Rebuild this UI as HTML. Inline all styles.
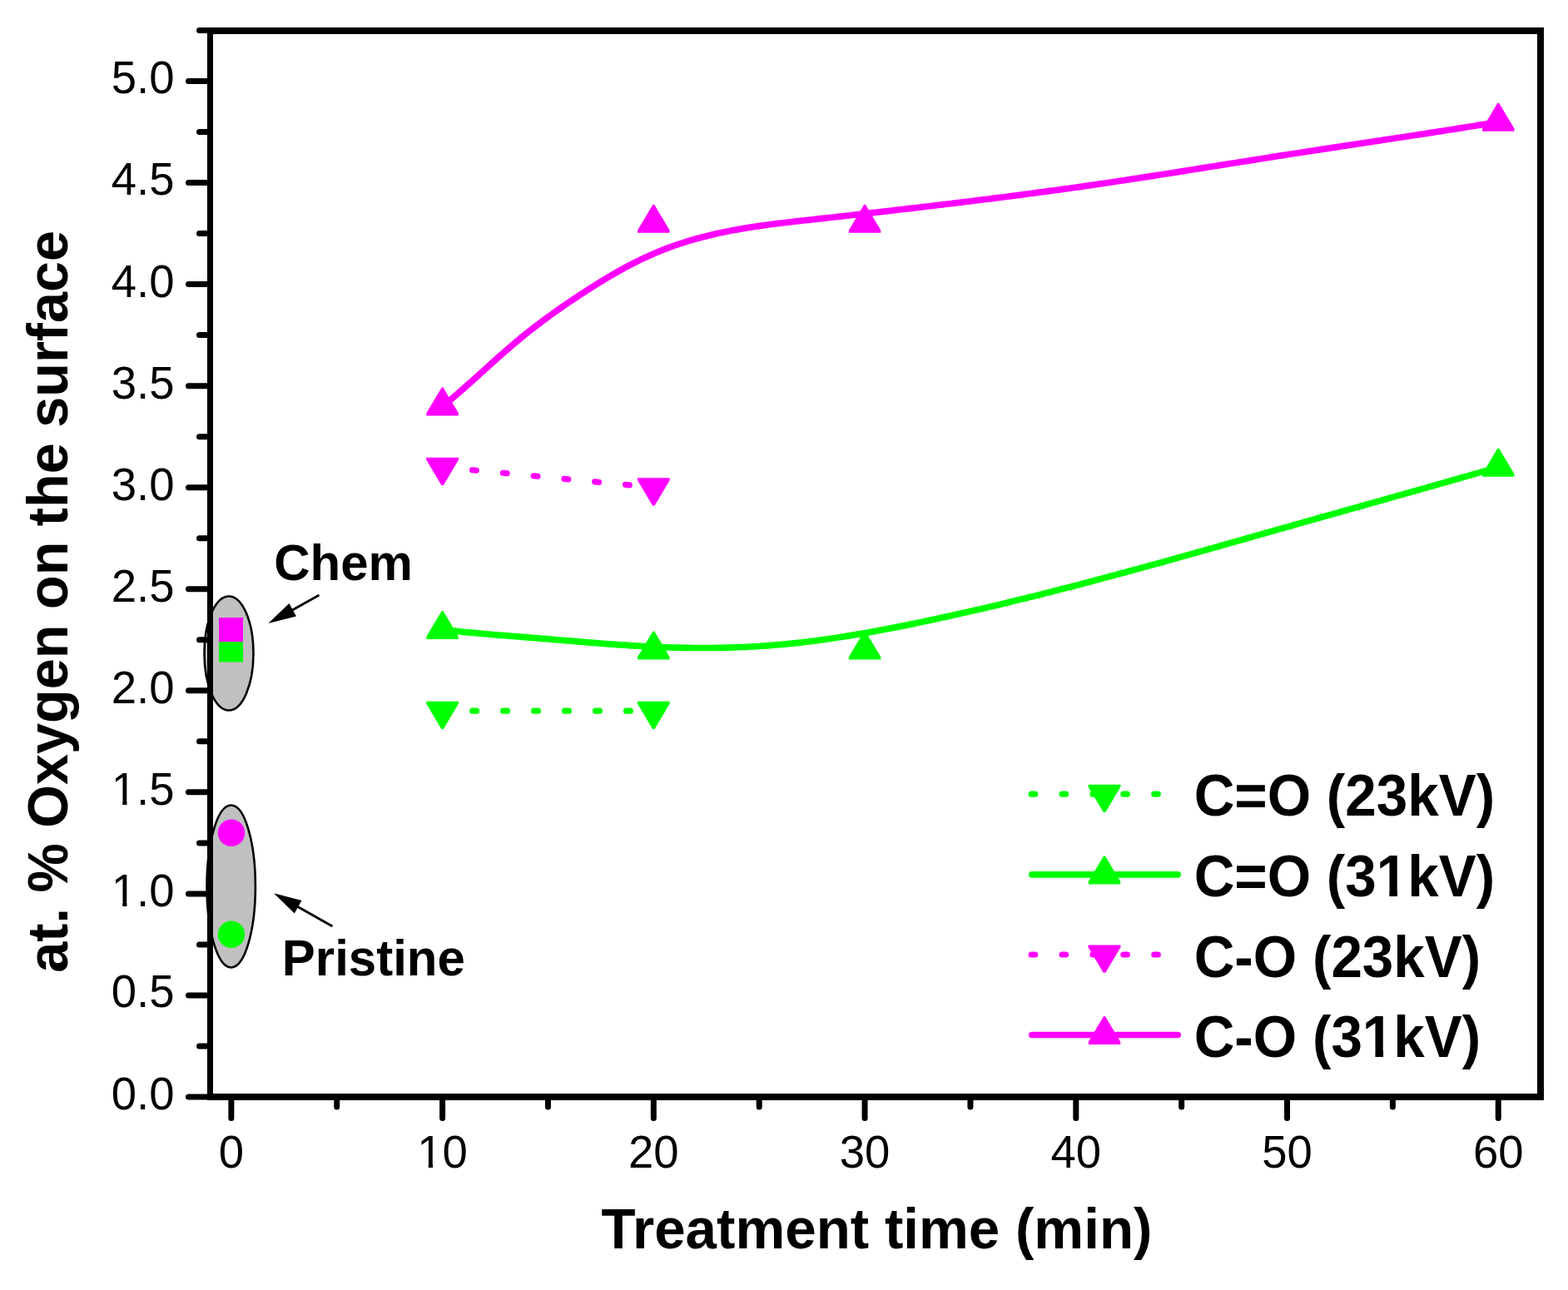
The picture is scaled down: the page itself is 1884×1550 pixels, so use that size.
<!DOCTYPE html>
<html><head><meta charset="utf-8"><title>at. % Oxygen on the surface vs Treatment time</title>
<style>
html,body{margin:0;padding:0;background:#fff;}
body{width:1884px;height:1550px;overflow:hidden;}
svg{display:block;}
text{font-family:"Liberation Sans",Arial,sans-serif;}
</style></head><body>
<svg width="1884" height="1550" viewBox="0 0 1884 1550">
<rect width="1884" height="1550" fill="#fff"/>

<ellipse cx="275" cy="785" rx="29.5" ry="68.5" fill="#c0c0c0" stroke="#000" stroke-width="2.6"/>
<ellipse cx="277.7" cy="1065" rx="29.2" ry="97.5" fill="#c0c0c0" stroke="#000" stroke-width="2.6"/>
<g fill="#000">
<rect x="249" y="33" width="7" height="1289"/>
<rect x="249" y="33" width="1606" height="8"/>
<rect x="1847" y="33" width="8" height="1289"/>
<rect x="249" y="1314" width="1606" height="8"/>
</g>
<g stroke="#000" stroke-width="7" stroke-linecap="round" fill="none">
<line x1="226.5" y1="1318.00" x2="252" y2="1318.00"/>
<line x1="239.5" y1="1256.97" x2="252" y2="1256.97"/>
<line x1="226.5" y1="1195.95" x2="252" y2="1195.95"/>
<line x1="239.5" y1="1134.92" x2="252" y2="1134.92"/>
<line x1="226.5" y1="1073.90" x2="252" y2="1073.90"/>
<line x1="239.5" y1="1012.88" x2="252" y2="1012.88"/>
<line x1="226.5" y1="951.85" x2="252" y2="951.85"/>
<line x1="239.5" y1="890.83" x2="252" y2="890.83"/>
<line x1="226.5" y1="829.80" x2="252" y2="829.80"/>
<line x1="239.5" y1="768.77" x2="252" y2="768.77"/>
<line x1="226.5" y1="707.75" x2="252" y2="707.75"/>
<line x1="239.5" y1="646.73" x2="252" y2="646.73"/>
<line x1="226.5" y1="585.70" x2="252" y2="585.70"/>
<line x1="239.5" y1="524.68" x2="252" y2="524.68"/>
<line x1="226.5" y1="463.65" x2="252" y2="463.65"/>
<line x1="239.5" y1="402.62" x2="252" y2="402.62"/>
<line x1="226.5" y1="341.60" x2="252" y2="341.60"/>
<line x1="239.5" y1="280.58" x2="252" y2="280.58"/>
<line x1="226.5" y1="219.55" x2="252" y2="219.55"/>
<line x1="239.5" y1="158.53" x2="252" y2="158.53"/>
<line x1="226.5" y1="97.50" x2="252" y2="97.50"/>
<line x1="239.5" y1="36.48" x2="252" y2="36.48"/>
<line x1="277.87" y1="1318" x2="277.87" y2="1343.5"/>
<line x1="404.74" y1="1318" x2="404.74" y2="1330"/>
<line x1="531.60" y1="1318" x2="531.60" y2="1343.5"/>
<line x1="658.47" y1="1318" x2="658.47" y2="1330"/>
<line x1="785.33" y1="1318" x2="785.33" y2="1343.5"/>
<line x1="912.20" y1="1318" x2="912.20" y2="1330"/>
<line x1="1039.06" y1="1318" x2="1039.06" y2="1343.5"/>
<line x1="1165.93" y1="1318" x2="1165.93" y2="1330"/>
<line x1="1292.79" y1="1318" x2="1292.79" y2="1343.5"/>
<line x1="1419.66" y1="1318" x2="1419.66" y2="1330"/>
<line x1="1546.52" y1="1318" x2="1546.52" y2="1343.5"/>
<line x1="1673.39" y1="1318" x2="1673.39" y2="1330"/>
<line x1="1800.25" y1="1318" x2="1800.25" y2="1343.5"/>
</g>
<g font-size="54.5" fill="#000">
<text text-anchor="end" transform="translate(209.5 1333.05) scale(1 1.032)">0.0</text>
<text text-anchor="end" transform="translate(209.5 1210.00) scale(1 1.032)">0.5</text>
<text text-anchor="end" transform="translate(209.5 1088.80) scale(1 1.032)">1.0</text>
<text text-anchor="end" transform="translate(209.5 966.80) scale(1 1.032)">1.5</text>
<text text-anchor="end" transform="translate(209.5 845.00) scale(1 1.032)">2.0</text>
<text text-anchor="end" transform="translate(209.5 722.55) scale(1 1.032)">2.5</text>
<text text-anchor="end" transform="translate(209.5 600.80) scale(1 1.032)">3.0</text>
<text text-anchor="end" transform="translate(209.5 479.00) scale(1 1.032)">3.5</text>
<text text-anchor="end" transform="translate(209.5 356.90) scale(1 1.032)">4.0</text>
<text text-anchor="end" transform="translate(209.5 233.85) scale(1 1.032)">4.5</text>
<text text-anchor="end" transform="translate(209.5 111.90) scale(1 1.032)">5.0</text>
<text text-anchor="middle" transform="translate(277.87 1402.9) scale(1 1.032)">0</text>
<text text-anchor="middle" transform="translate(531.60 1402.9) scale(1 1.032)">10</text>
<text text-anchor="middle" transform="translate(785.33 1402.9) scale(1 1.032)">20</text>
<text text-anchor="middle" transform="translate(1039.06 1402.9) scale(1 1.032)">30</text>
<text text-anchor="middle" transform="translate(1292.79 1402.9) scale(1 1.032)">40</text>
<text text-anchor="middle" transform="translate(1546.52 1402.9) scale(1 1.032)">50</text>
<text text-anchor="middle" transform="translate(1800.25 1402.9) scale(1 1.032)">60</text>
</g>
<rect x="504.44" y="1397.30" width="10.35" height="6.80" fill="#fff"/><rect x="520.01" y="1397.30" width="9.93" height="6.80" fill="#fff"/>
<rect x="136.89" y="1083.20" width="10.35" height="6.80" fill="#fff"/><rect x="152.46" y="1083.20" width="9.93" height="6.80" fill="#fff"/>
<rect x="136.89" y="961.20" width="10.35" height="6.80" fill="#fff"/><rect x="152.46" y="961.20" width="9.93" height="6.80" fill="#fff"/>
<text font-weight="bold" font-size="67.3" transform="translate(1053.5 1500) scale(1 1.015)" text-anchor="middle">Treatment time (min)</text>
<text font-weight="bold" font-size="66.6" transform="translate(81 1168.7) rotate(-90) scale(1 1.015)">at. % Oxygen on the surface</text>
<path d="M531.8 488.1 L536.8 484.0 L541.8 479.9 L546.8 475.7 L551.8 471.4 L556.8 467.0 L561.8 462.6 L566.8 458.1 L571.8 453.6 L576.8 449.1 L581.8 444.6 L586.8 440.1 L591.8 435.6 L596.8 431.1 L601.8 426.7 L606.8 422.3 L611.8 418.0 L616.8 413.7 L621.8 409.5 L626.8 405.3 L631.8 401.3 L636.8 397.3 L641.8 393.4 L646.8 389.6 L651.8 385.8 L656.8 382.1 L661.8 378.5 L666.8 374.9 L671.8 371.3 L676.8 367.9 L681.8 364.4 L686.8 361.1 L691.8 357.7 L696.8 354.4 L701.8 351.2 L706.8 347.9 L711.8 344.8 L716.8 341.6 L721.8 338.5 L726.8 335.5 L731.8 332.5 L736.8 329.6 L741.8 326.7 L746.8 323.9 L751.8 321.2 L756.8 318.5 L761.8 316.0 L766.8 313.4 L771.8 311.0 L776.8 308.7 L781.8 306.4 L786.8 304.2 L791.8 302.1 L796.8 300.1 L801.8 298.2 L806.8 296.4 L811.8 294.6 L816.8 292.9 L821.8 291.3 L826.8 289.7 L831.8 288.2 L836.8 286.8 L841.8 285.5 L846.8 284.2 L851.8 282.9 L856.8 281.7 L861.8 280.6 L866.8 279.5 L871.8 278.5 L876.8 277.5 L881.8 276.5 L886.8 275.6 L891.8 274.7 L896.8 273.9 L901.8 273.1 L906.8 272.3 L911.8 271.6 L916.8 270.9 L921.8 270.2 L926.8 269.5 L931.8 268.9 L936.8 268.3 L941.8 267.7 L946.8 267.1 L951.8 266.5 L956.8 265.9 L961.8 265.4 L966.8 264.8 L971.8 264.3 L976.8 263.7 L981.8 263.2 L986.8 262.6 L991.8 262.1 L996.8 261.5 L1001.8 261.0 L1006.8 260.4 L1011.8 259.9 L1016.8 259.3 L1021.8 258.7 L1026.8 258.2 L1031.8 257.6 L1036.8 257.0 L1041.8 256.5 L1046.8 255.9 L1051.8 255.3 L1056.8 254.7 L1061.8 254.1 L1066.8 253.6 L1071.8 253.0 L1076.8 252.4 L1081.8 251.8 L1086.8 251.2 L1091.8 250.6 L1096.8 250.1 L1101.8 249.5 L1106.8 248.9 L1111.8 248.3 L1116.8 247.7 L1121.8 247.1 L1126.8 246.5 L1131.8 245.9 L1136.8 245.3 L1141.8 244.7 L1146.8 244.1 L1151.8 243.5 L1156.8 242.9 L1161.8 242.3 L1166.8 241.7 L1171.8 241.0 L1176.8 240.4 L1181.8 239.8 L1186.8 239.2 L1191.8 238.6 L1196.8 237.9 L1201.8 237.3 L1206.8 236.7 L1211.8 236.0 L1216.8 235.4 L1221.8 234.7 L1226.8 234.1 L1231.8 233.4 L1236.8 232.8 L1241.8 232.1 L1246.8 231.4 L1251.8 230.8 L1256.8 230.1 L1261.8 229.4 L1266.8 228.7 L1271.8 228.1 L1276.8 227.4 L1281.8 226.7 L1286.8 226.0 L1291.8 225.3 L1296.8 224.6 L1301.8 223.9 L1306.8 223.1 L1311.8 222.4 L1316.8 221.7 L1321.8 220.9 L1326.8 220.2 L1331.8 219.5 L1336.8 218.7 L1341.8 218.0 L1346.8 217.2 L1351.8 216.5 L1356.8 215.7 L1361.8 214.9 L1366.8 214.2 L1371.8 213.4 L1376.8 212.6 L1381.8 211.9 L1386.8 211.1 L1391.8 210.3 L1396.8 209.5 L1401.8 208.7 L1406.8 208.0 L1411.8 207.2 L1416.8 206.4 L1421.8 205.6 L1426.8 204.8 L1431.8 204.0 L1436.8 203.2 L1441.8 202.4 L1446.8 201.6 L1451.8 200.8 L1456.8 200.0 L1461.8 199.2 L1466.8 198.4 L1471.8 197.6 L1476.8 196.8 L1481.8 196.0 L1486.8 195.2 L1491.8 194.5 L1496.8 193.7 L1501.8 192.9 L1506.8 192.1 L1511.8 191.3 L1516.8 190.5 L1521.8 189.7 L1526.8 188.9 L1531.8 188.1 L1536.8 187.3 L1541.8 186.6 L1546.8 185.8 L1551.8 185.0 L1556.8 184.2 L1561.8 183.5 L1566.8 182.7 L1571.8 181.9 L1576.8 181.2 L1581.8 180.4 L1586.8 179.6 L1591.8 178.9 L1596.8 178.1 L1601.8 177.4 L1606.8 176.6 L1611.8 175.8 L1616.8 175.1 L1621.8 174.3 L1626.8 173.6 L1631.8 172.8 L1636.8 172.1 L1641.8 171.3 L1646.8 170.6 L1651.8 169.8 L1656.8 169.1 L1661.8 168.3 L1666.8 167.5 L1671.8 166.8 L1676.8 166.0 L1681.8 165.3 L1686.8 164.5 L1691.8 163.7 L1696.8 163.0 L1701.8 162.2 L1706.8 161.4 L1711.8 160.7 L1716.8 159.9 L1721.8 159.1 L1726.8 158.3 L1731.8 157.6 L1736.8 156.8 L1741.8 156.0 L1746.8 155.2 L1751.8 154.4 L1756.8 153.6 L1761.8 152.8 L1766.8 152.0 L1771.8 151.2 L1776.8 150.4 L1781.8 149.6 L1786.8 148.7 L1791.8 147.9 L1796.8 147.1 L1800.3 146.5" fill="none" stroke="#ff00ff" stroke-width="7.7" stroke-linejoin="round"/>
<path d="M531.8 756.6 L536.8 757.2 L541.8 757.7 L546.8 758.2 L551.8 758.8 L556.8 759.3 L561.8 759.8 L566.8 760.2 L571.8 760.7 L576.8 761.2 L581.8 761.6 L586.8 762.0 L591.8 762.5 L596.8 762.9 L601.8 763.3 L606.8 763.7 L611.8 764.1 L616.8 764.5 L621.8 764.9 L626.8 765.3 L631.8 765.7 L636.8 766.1 L641.8 766.5 L646.8 766.9 L651.8 767.3 L656.8 767.7 L661.8 768.2 L666.8 768.6 L671.8 769.0 L676.8 769.4 L681.8 769.8 L686.8 770.2 L691.8 770.7 L696.8 771.1 L701.8 771.5 L706.8 771.9 L711.8 772.3 L716.8 772.7 L721.8 773.1 L726.8 773.5 L731.8 773.8 L736.8 774.2 L741.8 774.6 L746.8 774.9 L751.8 775.2 L756.8 775.6 L761.8 775.9 L766.8 776.2 L771.8 776.5 L776.8 776.7 L781.8 777.0 L786.8 777.2 L791.8 777.4 L796.8 777.6 L801.8 777.8 L806.8 778.0 L811.8 778.1 L816.8 778.2 L821.8 778.3 L826.8 778.4 L831.8 778.5 L836.8 778.5 L841.8 778.5 L846.8 778.5 L851.8 778.5 L856.8 778.5 L861.8 778.4 L866.8 778.3 L871.8 778.2 L876.8 778.1 L881.8 777.9 L886.8 777.7 L891.8 777.5 L896.8 777.3 L901.8 777.0 L906.8 776.8 L911.8 776.5 L916.8 776.1 L921.8 775.8 L926.8 775.4 L931.8 775.0 L936.8 774.6 L941.8 774.1 L946.8 773.6 L951.8 773.1 L956.8 772.6 L961.8 772.1 L966.8 771.5 L971.8 770.9 L976.8 770.2 L981.8 769.6 L986.8 768.9 L991.8 768.2 L996.8 767.5 L1001.8 766.8 L1006.8 766.0 L1011.8 765.2 L1016.8 764.4 L1021.8 763.6 L1026.8 762.8 L1031.8 761.9 L1036.8 761.1 L1041.8 760.2 L1046.8 759.3 L1051.8 758.4 L1056.8 757.4 L1061.8 756.5 L1066.8 755.5 L1071.8 754.6 L1076.8 753.6 L1081.8 752.6 L1086.8 751.6 L1091.8 750.6 L1096.8 749.6 L1101.8 748.5 L1106.8 747.5 L1111.8 746.4 L1116.8 745.4 L1121.8 744.3 L1126.8 743.2 L1131.8 742.1 L1136.8 741.1 L1141.8 740.0 L1146.8 738.8 L1151.8 737.7 L1156.8 736.6 L1161.8 735.5 L1166.8 734.3 L1171.8 733.2 L1176.8 732.0 L1181.8 730.9 L1186.8 729.7 L1191.8 728.5 L1196.8 727.4 L1201.8 726.2 L1206.8 725.0 L1211.8 723.8 L1216.8 722.6 L1221.8 721.3 L1226.8 720.1 L1231.8 718.9 L1236.8 717.6 L1241.8 716.4 L1246.8 715.2 L1251.8 713.9 L1256.8 712.6 L1261.8 711.4 L1266.8 710.1 L1271.8 708.8 L1276.8 707.5 L1281.8 706.3 L1286.8 705.0 L1291.8 703.7 L1296.8 702.4 L1301.8 701.1 L1306.8 699.7 L1311.8 698.4 L1316.8 697.1 L1321.8 695.8 L1326.8 694.4 L1331.8 693.1 L1336.8 691.8 L1341.8 690.4 L1346.8 689.1 L1351.8 687.7 L1356.8 686.3 L1361.8 685.0 L1366.8 683.6 L1371.8 682.3 L1376.8 680.9 L1381.8 679.5 L1386.8 678.1 L1391.8 676.7 L1396.8 675.4 L1401.8 674.0 L1406.8 672.6 L1411.8 671.2 L1416.8 669.8 L1421.8 668.4 L1426.8 667.0 L1431.8 665.6 L1436.8 664.2 L1441.8 662.8 L1446.8 661.4 L1451.8 660.0 L1456.8 658.6 L1461.8 657.2 L1466.8 655.8 L1471.8 654.3 L1476.8 652.9 L1481.8 651.5 L1486.8 650.1 L1491.8 648.7 L1496.8 647.3 L1501.8 645.8 L1506.8 644.4 L1511.8 643.0 L1516.8 641.6 L1521.8 640.2 L1526.8 638.8 L1531.8 637.3 L1536.8 635.9 L1541.8 634.5 L1546.8 633.1 L1551.8 631.7 L1556.8 630.3 L1561.8 628.9 L1566.8 627.4 L1571.8 626.0 L1576.8 624.6 L1581.8 623.2 L1586.8 621.8 L1591.8 620.4 L1596.8 619.0 L1601.8 617.6 L1606.8 616.2 L1611.8 614.8 L1616.8 613.3 L1621.8 611.9 L1626.8 610.5 L1631.8 609.1 L1636.8 607.7 L1641.8 606.3 L1646.8 604.9 L1651.8 603.5 L1656.8 602.1 L1661.8 600.7 L1666.8 599.3 L1671.8 597.9 L1676.8 596.4 L1681.8 595.0 L1686.8 593.6 L1691.8 592.2 L1696.8 590.8 L1701.8 589.4 L1706.8 588.0 L1711.8 586.6 L1716.8 585.1 L1721.8 583.7 L1726.8 582.3 L1731.8 580.9 L1736.8 579.5 L1741.8 578.0 L1746.8 576.6 L1751.8 575.2 L1756.8 573.8 L1761.8 572.4 L1766.8 570.9 L1771.8 569.5 L1776.8 568.1 L1781.8 566.6 L1786.8 565.2 L1791.8 563.8 L1796.8 562.3 L1800.3 561.3" fill="none" stroke="#00ff00" stroke-width="7.7" stroke-linejoin="round"/>
<line x1="531.60" y1="561.29" x2="785.33" y2="585.70" stroke="#ff00ff" stroke-width="7.2" stroke-linecap="round" stroke-dasharray="4.8 32.15" stroke-dashoffset="0.8"/>
<line x1="531.60" y1="854.21" x2="785.33" y2="854.21" stroke="#00ff00" stroke-width="7.2" stroke-linecap="round" stroke-dasharray="4.8 32.15" stroke-dashoffset="0.8"/>
<path d="M530.70 465.56 L532.50 465.56 L550.80 496.26 L550.80 499.56 L512.40 499.56 L512.40 496.26 Z" fill="#ff00ff"/>
<path d="M784.43 245.87 L786.23 245.87 L804.53 276.57 L804.53 279.87 L766.13 279.87 L766.13 276.57 Z" fill="#ff00ff"/>
<path d="M1038.16 245.87 L1039.96 245.87 L1058.26 276.57 L1058.26 279.87 L1019.86 279.87 L1019.86 276.57 Z" fill="#ff00ff"/>
<path d="M1799.35 123.82 L1801.15 123.82 L1819.45 154.52 L1819.45 157.82 L1781.05 157.82 L1781.05 154.52 Z" fill="#ff00ff"/>
<path d="M530.70 734.07 L532.50 734.07 L550.80 764.77 L550.80 768.07 L512.40 768.07 L512.40 764.77 Z" fill="#00ff00"/>
<path d="M784.43 758.48 L786.23 758.48 L804.53 789.18 L804.53 792.48 L766.13 792.48 L766.13 789.18 Z" fill="#00ff00"/>
<path d="M1038.16 758.48 L1039.96 758.48 L1058.26 789.18 L1058.26 792.48 L1019.86 792.48 L1019.86 789.18 Z" fill="#00ff00"/>
<path d="M1799.35 538.79 L1801.15 538.79 L1819.45 569.49 L1819.45 572.79 L1781.05 572.79 L1781.05 569.49 Z" fill="#00ff00"/>
<path d="M512.20 549.79 L551.00 549.79 L551.00 552.59 L532.90 583.09 L530.30 583.09 L512.20 552.59 Z" fill="#ff00ff"/>
<path d="M765.93 574.20 L804.73 574.20 L804.73 577.00 L786.63 607.50 L784.03 607.50 L765.93 577.00 Z" fill="#ff00ff"/>
<path d="M512.20 842.71 L551.00 842.71 L551.00 845.51 L532.90 876.01 L530.30 876.01 L512.20 845.51 Z" fill="#00ff00"/>
<path d="M765.93 842.71 L804.73 842.71 L804.73 845.51 L786.63 876.01 L784.03 876.01 L765.93 845.51 Z" fill="#00ff00"/>
<rect x="263" y="766.48" width="29" height="29" fill="#00ff00"/>
<rect x="263" y="742.07" width="29" height="29" fill="#ff00ff"/>
<circle cx="278" cy="1000.67" r="16.2" fill="#ff00ff"/>
<circle cx="278" cy="1122.72" r="16.2" fill="#00ff00"/>
<line x1="383.5" y1="715.0" x2="348.2" y2="734.7" stroke="#000" stroke-width="2.8"/><path d="M322.4 749.0 L347.4 725.0 L356.0 740.4 Z" fill="#000"/>
<line x1="399.4" y1="1113.0" x2="354.7" y2="1087.7" stroke="#000" stroke-width="2.8"/><path d="M329.0 1073.2 L362.5 1082.0 L353.8 1097.4 Z" fill="#000"/>
<text font-weight="bold" font-size="60" transform="translate(329.2 696.8) scale(1 1.015)">Chem</text>
<text font-weight="bold" font-size="60" transform="translate(338.8 1172) scale(1 1.015)">Pristine</text>
<line x1="1239.2" y1="954.2" x2="1415.2" y2="954.2" stroke="#00ff00" stroke-width="7.2" stroke-linecap="round" stroke-dasharray="4.5 32.4"/>
<path d="M1307.60 942.70 L1346.40 942.70 L1346.40 945.50 L1328.30 976.00 L1325.70 976.00 L1307.60 945.50 Z" fill="#00ff00"/>
<text font-weight="bold" font-size="67.4" transform="translate(1434.7 980.3) scale(1 1.040)">C=O (23kV)</text>
<line x1="1239.8" y1="1050.9" x2="1415.2" y2="1050.9" stroke="#00ff00" stroke-width="7.6" stroke-linecap="round"/>
<path d="M1326.10 1028.40 L1327.90 1028.40 L1346.20 1059.10 L1346.20 1062.40 L1307.80 1062.40 L1307.80 1059.10 Z" fill="#00ff00"/>
<text font-weight="bold" font-size="67.4" transform="translate(1434.7 1077.0) scale(1 1.040)">C=O (31kV)</text>
<rect x="1657.06" y="1068.45" width="12.29" height="9.75" fill="#fff"/><rect x="1678.99" y="1068.45" width="11.43" height="9.75" fill="#fff"/>
<line x1="1239.2" y1="1147.0" x2="1415.2" y2="1147.0" stroke="#ff00ff" stroke-width="7.2" stroke-linecap="round" stroke-dasharray="4.5 32.4"/>
<path d="M1307.60 1135.50 L1346.40 1135.50 L1346.40 1138.30 L1328.30 1168.80 L1325.70 1168.80 L1307.60 1138.30 Z" fill="#ff00ff"/>
<text font-weight="bold" font-size="67.4" transform="translate(1434.7 1173.6) scale(1 1.040)">C-O (23kV)</text>
<line x1="1239.8" y1="1243.5" x2="1415.2" y2="1243.5" stroke="#ff00ff" stroke-width="7.6" stroke-linecap="round"/>
<path d="M1326.10 1221.00 L1327.90 1221.00 L1346.20 1251.70 L1346.20 1255.00 L1307.80 1255.00 L1307.80 1251.70 Z" fill="#ff00ff"/>
<text font-weight="bold" font-size="67.4" transform="translate(1434.7 1270.3) scale(1 1.040)">C-O (31kV)</text>
<rect x="1640.15" y="1261.75" width="12.29" height="9.75" fill="#fff"/><rect x="1662.08" y="1261.75" width="11.43" height="9.75" fill="#fff"/>
</svg>
</body></html>
